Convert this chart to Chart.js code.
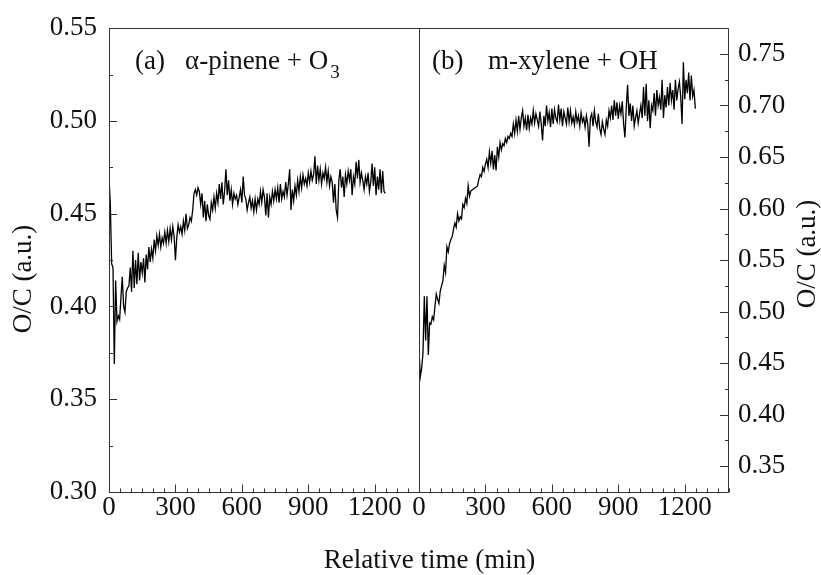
<!DOCTYPE html>
<html>
<head>
<meta charset="utf-8">
<script src="https://cdn.jsdelivr.net/npm/chart.js@4/dist/chart.umd.min.js"></script>
<style>
  html, body { margin: 0; padding: 0; background: #fff; }
  canvas { display: block; }
</style>
</head>
<body>
<canvas id="graficoOC" width="821" height="575"></canvas>
<script>
// Muestreo: un punto cada 6 min
const sampleStep = 6;

// (a) alpha-pineno + O3, O/C
const ocPinene = [
  0.470, 0.455, 0.423, 0.421, 0.369, 0.414, 0.392, 0.395, 0.393, 0.405,
  0.416, 0.400, 0.397, 0.408, 0.410, 0.411, 0.421, 0.408, 0.430, 0.410,
  0.425, 0.412, 0.429, 0.414, 0.424, 0.418, 0.426, 0.413, 0.428, 0.420,
  0.432, 0.424, 0.431, 0.426, 0.436, 0.430, 0.438, 0.433, 0.439, 0.432,
  0.437, 0.434, 0.440, 0.434, 0.441, 0.435, 0.442, 0.436, 0.443, 0.438,
  0.425, 0.437, 0.444, 0.440, 0.443, 0.439, 0.446, 0.441, 0.450, 0.442,
  0.444, 0.448, 0.446, 0.452, 0.461, 0.463, 0.460, 0.464, 0.462, 0.455,
  0.461, 0.448, 0.457, 0.446, 0.455, 0.449, 0.447, 0.456, 0.452, 0.459,
  0.453, 0.461, 0.456, 0.466, 0.458, 0.467, 0.455, 0.462, 0.474, 0.460,
  0.468, 0.457, 0.463, 0.455, 0.461, 0.458, 0.460, 0.455, 0.459, 0.463,
  0.456, 0.470, 0.460, 0.458, 0.452, 0.456, 0.459, 0.453, 0.457, 0.451,
  0.458, 0.452, 0.458, 0.455, 0.462, 0.456, 0.463, 0.459, 0.449, 0.461,
  0.448, 0.459, 0.455, 0.462, 0.457, 0.463, 0.458, 0.464, 0.456, 0.466,
  0.458, 0.462, 0.459, 0.467, 0.460, 0.466, 0.474, 0.452, 0.463, 0.457,
  0.465, 0.460, 0.468, 0.462, 0.470, 0.464, 0.471, 0.466, 0.469, 0.465,
  0.472, 0.467, 0.473, 0.468, 0.471, 0.481, 0.466, 0.476, 0.468, 0.474,
  0.466, 0.472, 0.469, 0.475, 0.467, 0.473, 0.465, 0.470, 0.467, 0.456,
  0.466, 0.452, 0.448, 0.468, 0.474, 0.464, 0.470, 0.459, 0.471, 0.466,
  0.473, 0.468, 0.474, 0.460, 0.470, 0.466, 0.478, 0.469, 0.479, 0.467,
  0.472, 0.468, 0.463, 0.470, 0.466, 0.472, 0.462, 0.467, 0.477, 0.465,
  0.475, 0.460, 0.470, 0.463, 0.474, 0.461, 0.473, 0.462, 0.461
];

// (b) m-xileno + OH, O/C
const ocXylene = [
  0.462, 0.437, 0.445, 0.460, 0.515, 0.472, 0.515, 0.458, 0.489, 0.488,
  0.495, 0.492, 0.505, 0.517, 0.512, 0.508, 0.520, 0.525, 0.530, 0.545,
  0.538, 0.563, 0.558, 0.566, 0.570, 0.573, 0.580, 0.586, 0.582, 0.595,
  0.588, 0.592, 0.590, 0.604, 0.601, 0.610, 0.605, 0.622, 0.612, 0.617,
  0.618, 0.619, 0.620, 0.621, 0.622, 0.628, 0.633, 0.631, 0.640, 0.636,
  0.643, 0.648, 0.640, 0.655, 0.644, 0.656, 0.638, 0.652, 0.637, 0.660,
  0.650, 0.664, 0.657, 0.663, 0.661, 0.668, 0.664, 0.670, 0.668, 0.673,
  0.670, 0.682, 0.673, 0.686, 0.675, 0.690, 0.677, 0.688, 0.695, 0.680,
  0.688, 0.676, 0.691, 0.678, 0.688, 0.682, 0.695, 0.683, 0.692, 0.686,
  0.680, 0.694, 0.682, 0.666, 0.690, 0.680, 0.700, 0.685, 0.693, 0.679,
  0.697, 0.682, 0.696, 0.688, 0.684, 0.701, 0.686, 0.697, 0.680, 0.694,
  0.688, 0.682, 0.698, 0.684, 0.695, 0.683, 0.689, 0.681, 0.694, 0.684,
  0.690, 0.680, 0.693, 0.684, 0.688, 0.679, 0.690, 0.682, 0.660, 0.688,
  0.692, 0.680, 0.695, 0.684, 0.679, 0.692, 0.678, 0.672, 0.684, 0.677,
  0.672, 0.686, 0.680, 0.695, 0.688, 0.700, 0.686, 0.705, 0.690, 0.703,
  0.687, 0.700, 0.692, 0.704, 0.682, 0.669, 0.698, 0.720, 0.690, 0.702,
  0.685, 0.700, 0.680, 0.688, 0.695, 0.683, 0.692, 0.700, 0.688, 0.718,
  0.690, 0.721, 0.685, 0.705, 0.678, 0.700, 0.695, 0.712, 0.690, 0.715,
  0.700, 0.708, 0.696, 0.725, 0.688, 0.710, 0.698, 0.718, 0.700, 0.722,
  0.705, 0.715, 0.696, 0.725, 0.705, 0.716, 0.723, 0.708, 0.682, 0.742,
  0.706, 0.725, 0.712, 0.732, 0.705, 0.729, 0.709, 0.715, 0.697
];

// Etiquetas de los ejes
const timeTicks = [0, 300, 600, 900, 1200];
const ocTicksLeft = [0.30, 0.35, 0.40, 0.45, 0.50, 0.55];
const ocTicksRight = [0.35, 0.40, 0.45, 0.50, 0.55, 0.60, 0.65, 0.70, 0.75];

const toPoints = (vals) => vals.map((v, i) => ({x: i * sampleStep, y: v}));

const serif = '"Liberation Serif", "Times New Roman", serif';
const ink = '#111';
const frameColor = '#333';

// Marcas hacia dentro (mayores y menores) + marco y textos de los paneles
const insideTicks = {
  id: 'insideTicks',
  afterDraw(chart) {
    const {ctx, chartArea: a} = chart;
    const {x1, x2, y1, y2} = chart.scales;
    ctx.save();
    ctx.strokeStyle = frameColor;
    ctx.lineWidth = 1;

    ctx.beginPath();
    ctx.rect(Math.round(a.left) + 0.5, Math.round(a.top) + 0.5,
      Math.round(a.right - a.left) - 1, Math.round(a.bottom - a.top));
    const mid = Math.round(x2.left) + 0.5;
    ctx.moveTo(mid, a.top);
    ctx.lineTo(mid, a.bottom);

    const b = Math.round(a.bottom) + 0.5;
    [x1, x2].forEach(sc => {
      for (let t = 0; t <= 1400; t += 50) {
        const px = Math.round(sc.getPixelForValue(t)) + 0.5;
        if (px < sc.left - 1 || px > sc.right + 1) continue;
        const len = t % 300 === 0 ? 8 : 4;
        ctx.moveTo(px, b);
        ctx.lineTo(px, b - len);
      }
    });
    for (let v = 0.30; v <= 0.5501; v += 0.025) {
      const py = Math.round(y1.getPixelForValue(v)) + 0.5;
      const len = Math.round(v * 1000) % 50 === 0 ? 8 : 4;
      ctx.moveTo(a.left, py);
      ctx.lineTo(a.left + len, py);
    }
    for (let v = 0.35; v <= 0.7501; v += 0.025) {
      const py = Math.round(y2.getPixelForValue(v)) + 0.5;
      const len = Math.round(v * 1000) % 50 === 0 ? 9 : 4;
      ctx.moveTo(a.right, py);
      ctx.lineTo(a.right - len, py);
    }
    ctx.stroke();

    // textos
    ctx.fillStyle = ink;
    ctx.font = '27px ' + serif;
    ctx.textBaseline = 'alphabetic';
    ctx.textAlign = 'left';
    ctx.fillText('(a)', 135, 68.5);
    const txtA = 'α-pinene + O';
    ctx.fillText(txtA, 185, 68.5);
    const wA = ctx.measureText(txtA).width;
    ctx.fillText('(b)', 432, 68.5);
    ctx.fillText('m-xylene + OH', 488, 68.5);
    ctx.font = '19px ' + serif;
    ctx.fillText('3', 185 + wA + 2, 78);

    ctx.font = '27px ' + serif;
    ctx.textAlign = 'center';
    ctx.fillText('Relative time (min)', 429.5, 568);

    ctx.textBaseline = 'middle';
    ctx.translate(24, 279);
    ctx.rotate(-Math.PI / 2);
    ctx.fillText('O/C (a.u.)', 0, 0);
    ctx.setTransform(1, 0, 0, 1, 0, 0);
    ctx.translate(808, 254);
    ctx.rotate(-Math.PI / 2);
    ctx.fillText('O/C (a.u.)', 0, 0);
    ctx.restore();
  }
};

const tickFont = {family: serif, size: 27};

const xAxis = {
  type: 'linear',
  position: 'bottom',
  stack: 'tiempo',
  stackWeight: 1,
  min: 0,
  max: 1400,
  grid: {display: false, drawTicks: false},
  border: {display: false},
  afterBuildTicks: sc => { sc.ticks = timeTicks.map(v => ({value: v})); },
  afterFit: sc => { sc.height = 83; },
  ticks: {
    autoSkip: false,
    maxRotation: 0,
    padding: 0,
    color: ink,
    font: tickFont,
    callback: v => String(v)
  }
};

const ctx = document.getElementById('graficoOC').getContext('2d');

const chart = new Chart(ctx, {
  type: 'line',
  data: {
    datasets: [
      {
        label: 'α-pinene + O3',
        data: toPoints(ocPinene),
        xAxisID: 'x1',
        yAxisID: 'y1',
        borderColor: '#000',
        borderWidth: 1.3,
        pointRadius: 0,
        tension: 0,
        fill: false
      },
      {
        label: 'm-xylene + OH',
        data: toPoints(ocXylene),
        xAxisID: 'x2',
        yAxisID: 'y2',
        borderColor: '#000',
        borderWidth: 1.3,
        pointRadius: 0,
        tension: 0,
        fill: false
      }
    ]
  },
  options: {
    responsive: false,
    animation: false,
    layout: {padding: {top: 26, left: 0, right: 0, bottom: 0}},
    plugins: {
      legend: {display: false},
      tooltip: {enabled: false}
    },
    scales: {
      x1: {...xAxis},
      x2: {...xAxis},
      y1: {
        type: 'linear',
        position: 'left',
        min: 0.30,
        max: 0.55,
        grid: {display: false, drawTicks: false},
        border: {display: false},
        afterBuildTicks: sc => { sc.ticks = ocTicksLeft.map(v => ({value: v})); },
        afterFit: sc => { sc.width = 109; },
        ticks: {padding: 12, color: ink, font: tickFont, callback: v => v.toFixed(2)}
      },
      y2: {
        type: 'linear',
        position: 'right',
        min: 0.325,
        max: 0.775,
        grid: {display: false, drawTicks: false},
        border: {display: false},
        afterBuildTicks: sc => { sc.ticks = ocTicksRight.map(v => ({value: v})); },
        afterFit: sc => { sc.width = 92; },
        ticks: {padding: 9, color: ink, font: tickFont, callback: v => v.toFixed(2)}
      }
    }
  },
  plugins: [insideTicks]
});
</script>
</body>
</html>
